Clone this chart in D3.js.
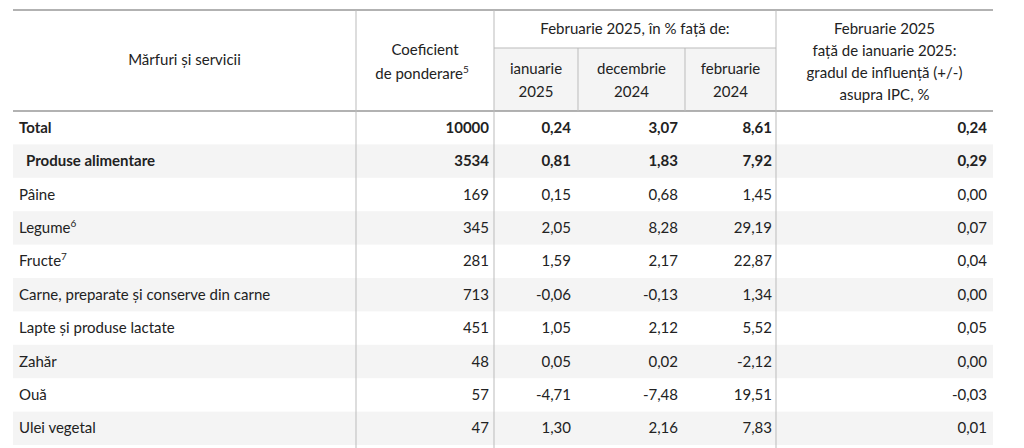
<!DOCTYPE html>
<html><head><meta charset="utf-8">
<script src="https://cdn.jsdelivr.net/npm/d3@7"></script>
<style>body{margin:0;background:#fff}</style>
</head><body><div id="tbl"></div>
<script>
const w = 1024, h = 448;
const categories = ["Total", "Produse alimentare", "Pâine", "Legume", "Fructe", "Carne, preparate și conserve din carne",
  "Lapte și produse lactate", "Zahăr", "Ouă", "Ulei vegetal"];
const supers = ["", "", "", "6", "7", "", "", "", "", ""];
const weights = ["10000", "3534", "169", "345", "281", "713", "451", "48", "57", "47"];
const vsJan25 = ["0,24", "0,81", "0,15", "2,05", "1,59", "-0,06", "1,05", "0,05", "-4,71", "1,30"];
const vsDec24 = ["3,07", "1,83", "0,68", "8,28", "2,17", "-0,13", "2,12", "0,02", "-7,48", "2,16"];
const vsFeb24 = ["8,61", "7,92", "1,45", "29,19", "22,87", "1,34", "5,52", "-2,12", "19,51", "7,83"];
const influence = ["0,24", "0,29", "0,00", "0,07", "0,04", "0,00", "0,05", "0,00", "-0,03", "0,01"];

const svg = d3.select("#tbl").append("svg").attr("width", w).attr("height", h)
  .style("font-family", "Lato, sans-serif");
const col = [13, 356, 494, 578, 685, 776, 993];
const topY = 10, midY = 48, headB = 111, rowH = 33.4;
const y = d3.scaleLinear().domain([0, 1]).range([headB, headB + rowH]);
const ink = "#222";

// header grey subcells
svg.append("rect").attr("x", col[2]).attr("y", midY).attr("width", col[5] - col[2]).attr("height", headB - midY).attr("fill", "#f4f4f4");
// row shading
categories.forEach((c, i) => {
  if (i % 2 === 1) svg.append("rect").attr("x", col[0]).attr("y", y(i)).attr("width", col[6] - col[0]).attr("height", rowH).attr("fill", "#f4f4f4");
});
const line = (x1, y1, x2, y2, c = "#bbb", sw = 1) => svg.append("line").attr("x1", x1).attr("y1", y1).attr("x2", x2).attr("y2", y2).attr("stroke", c).attr("stroke-width", sw);
line(col[0], topY, col[6], topY, "#999", 1.5);
line(col[0], headB, col[6], headB, "#999", 1.5);
line(col[2], midY, col[5], midY);
[1, 2, 5].forEach(k => line(col[k], topY, col[k], h));
[3, 4].forEach(k => line(col[k], midY, col[k], headB));

const txt = (x, yy, s, anchor = "middle", weight = 400) => svg.append("text").attr("x", x).attr("y", yy)
  .attr("text-anchor", anchor).attr("font-size", 15).attr("font-weight", weight).attr("fill", ink).text(s);
txt((col[0] + col[1]) / 2, 65, "Mărfuri și servicii");
txt((col[1] + col[2]) / 2, 55, "Coeficient");
const cp = txt((col[1] + col[2]) / 2 - 3, 79, "de ponderare");
cp.append("tspan").attr("font-size", 10).attr("dy", -6).text("5");
txt((col[2] + col[5]) / 2, 34, "Februarie 2025, în % față de:");
[["ianuarie", "2025"], ["decembrie", "2024"], ["februarie", "2024"]].forEach((p, k) => {
  txt((col[2 + k] + col[3 + k]) / 2, 74, p[0]);
  txt((col[2 + k] + col[3 + k]) / 2, 97, p[1]);
});
["Februarie 2025", "față de ianuarie 2025:", "gradul de influență (+/-)", "asupra IPC, %"].forEach((s, k) =>
  txt((col[5] + col[6]) / 2, 34 + k * 22, s));

const cols = [weights, vsJan25, vsDec24, vsFeb24, influence];
const rx = [col[2] - 5, col[3] - 7, col[4] - 7, col[5] - 4, col[6] - 6];
categories.forEach((c, i) => {
  const yy = y(i) + rowH / 2 + 5;
  const bold = i < 2 ? 700 : 400;
  const t = txt(i === 1 ? col[0] + 13 : col[0] + 6, yy, c, "start", bold);
  if (supers[i]) t.append("tspan").attr("font-size", 10).attr("dy", -6).text(supers[i]);
  cols.forEach((arr, k) => txt(rx[k], yy, arr[i], "end", bold));
});
</script></body></html>
